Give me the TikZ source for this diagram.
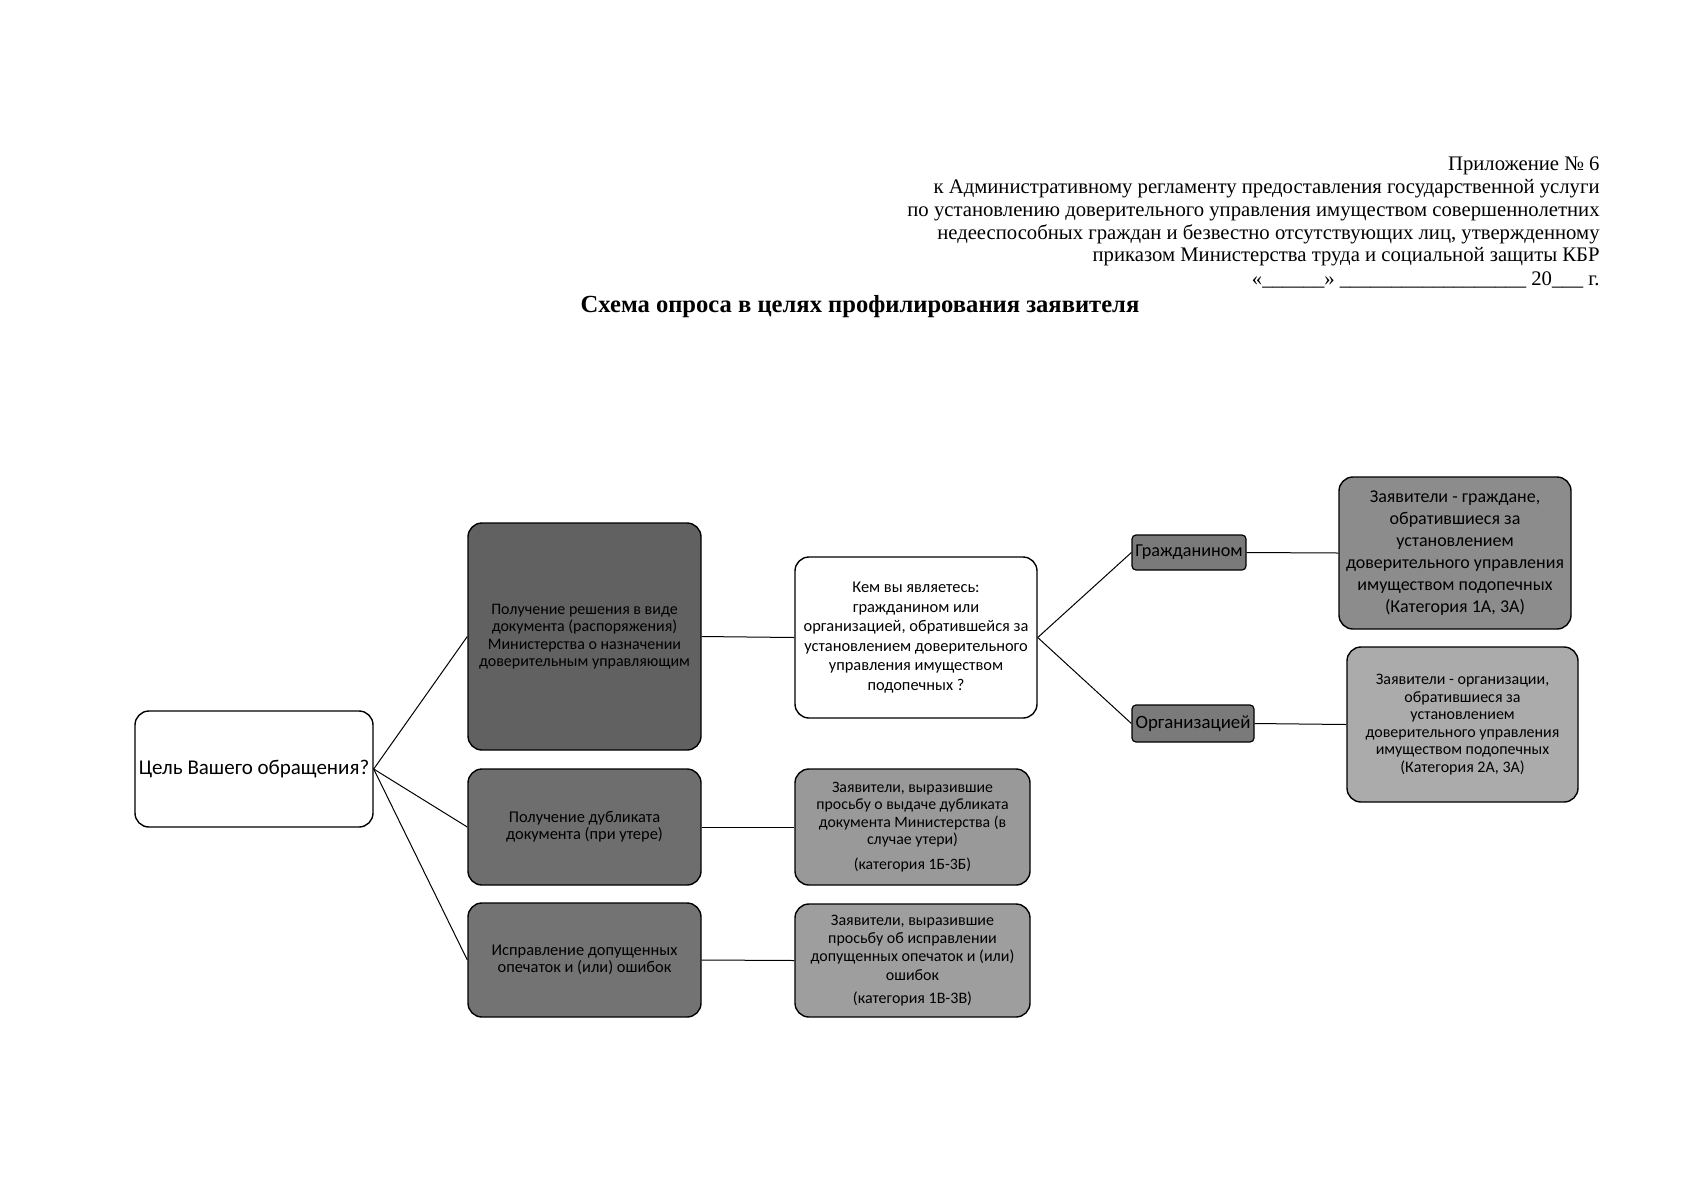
\documentclass[tikz,border=0pt]{standalone}
\usepackage{fontspec}
\setmainfont{Liberation Serif}
\newfontfamily\carl{Carlito}
\begin{document}
\begin{tikzpicture}[x=0.5pt,y=-0.5pt,
  hdr/.style={anchor=base east, inner sep=0pt, font=\fontsize{10.35}{12}\selectfont},
  box/.style={draw=black, line width=0.7pt, rounded corners=7pt, align=center, inner sep=1pt, font=\carl},
  smallbox/.style={draw=black, line width=0.6pt, rounded corners=2pt, align=center, inner sep=0pt, font=\carl},
  link/.style={draw=black, line width=0.5pt}
]
\fill[white] (0,0) rectangle (1697,1200);
\useasboundingbox (0,0) rectangle (1697,1200);

% header
\node[hdr] (h1) at (1600,170) {Приложение № 6};
\node[hdr] (h2) at (1600,193) {к Административному регламенту предоставления государственной услуги};
\node[hdr] (h3) at (1600,216) {по установлению доверительного управления имуществом совершеннолетних};
\node[hdr] (h4) at (1600,239) {недееспособных граждан и безвестно отсутствующих лиц, утвержденному};
\node[hdr] (h5) at (1600,261) {приказом Министерства труда и социальной защиты КБР};
\node[hdr] (h6) at (1600,285) {«\_\_\_\_\_\_» \_\_\_\_\_\_\_\_\_\_\_\_\_\_\_\_\_\_ 20\_\_\_ г.};
\node[anchor=base, inner sep=0pt, font=\bfseries\fontsize{12.3}{14}\selectfont] (title) at (860,312) {Схема опроса в целях профилирования заявителя};

% nodes
\node[box, fill=white, minimum width=119pt, minimum height=58pt, font=\carl\fontsize{10.5}{12}\selectfont] (cel) at (254,769) {Цель Вашего обращения?};

\node[box, fill=black!62, minimum width=116.5pt, minimum height=113.5pt, font=\carl\fontsize{8}{8.7}\selectfont] (a) at (584.5,636.5)
  {Получение решения в виде\\документа (распоряжения)\\Министерства о назначении\\доверительным управляющим};
\node[box, fill=black!57, minimum width=116.5pt, minimum height=58pt, font=\carl\fontsize{8.2}{8.7}\selectfont] (b) at (584.5,827)
  {Получение дубликата\\документа (при утере)};
\node[box, fill=black!55, minimum width=116.5pt, minimum height=57pt, font=\carl\fontsize{8.2}{8.7}\selectfont] (c) at (584.5,960)
  {Исправление допущенных\\опечаток и (или) ошибок};

\node[box, fill=white, minimum width=121pt, minimum height=80.5pt, font=\carl\fontsize{8.2}{9.75}\selectfont] (q) at (916,637.5)
  {Кем вы являетесь:\\гражданином или\\организацией, обратившейся за\\установлением доверительного\\управления имуществом\\подопечных ?};

\node[box, fill=black!40, minimum width=117.5pt, minimum height=58pt, font=\carl\fontsize{7.9}{8.7}\selectfont] (d) at (912.5,827)
  {Заявители, выразившие\\просьбу о выдаче дубликата\\документа Министерства (в\\случае утери)\\[3.7pt](категория 1Б-3Б)};
\node[box, fill=black!38, minimum width=117.5pt, minimum height=56.5pt, font=\carl\fontsize{8}{9.2}\selectfont] (e) at (912.5,960.5)
  {Заявители, выразившие\\просьбу об исправлении\\допущенных опечаток и (или)\\ошибок\\[2.5pt](категория 1В-3В)};

\node[smallbox, fill=black!52, minimum width=57pt, minimum height=17.5pt, font=\carl\fontsize{9.1}{11}\selectfont] (g1) at (1189,552.5) {Гражданином};
\node[smallbox, fill=black!52, minimum width=61pt, minimum height=18.5pt, font=\carl\fontsize{9.4}{11}\selectfont] (o1) at (1193,723.5) {Организацией};

\node[box, fill=black!45, minimum width=116pt, minimum height=76pt, font=\carl\fontsize{9}{11}\selectfont] (f) at (1455,553)
  {Заявители - граждане,\\обратившиеся за\\установлением\\доверительного управления\\имуществом подопечных\\(Категория 1А, 3А)};
\node[box, fill=black!33, minimum width=115.5pt, minimum height=77.5pt, font=\carl\fontsize{8}{8.75}\selectfont] (g) at (1462.5,724.5)
  {Заявители - организации,\\обратившиеся за\\установлением\\доверительного управления\\имуществом подопечных\\(Категория 2А, 3А)};

% connectors
\draw[link] (cel.east) -- (a.west);
\draw[link] (cel.east) -- (b.west);
\draw[link] (cel.east) -- (c.west);
\draw[link] (a.east) -- (q.west);
\draw[link] (b.east) -- (d.west);
\draw[link] (c.east) -- (e.west);
\draw[link] (q.east) -- (g1.west);
\draw[link] (q.east) -- (o1.west);
\draw[link] (g1.east) -- (f.west);
\draw[link] (o1.east) -- (g.west);
\end{tikzpicture}
\end{document}
